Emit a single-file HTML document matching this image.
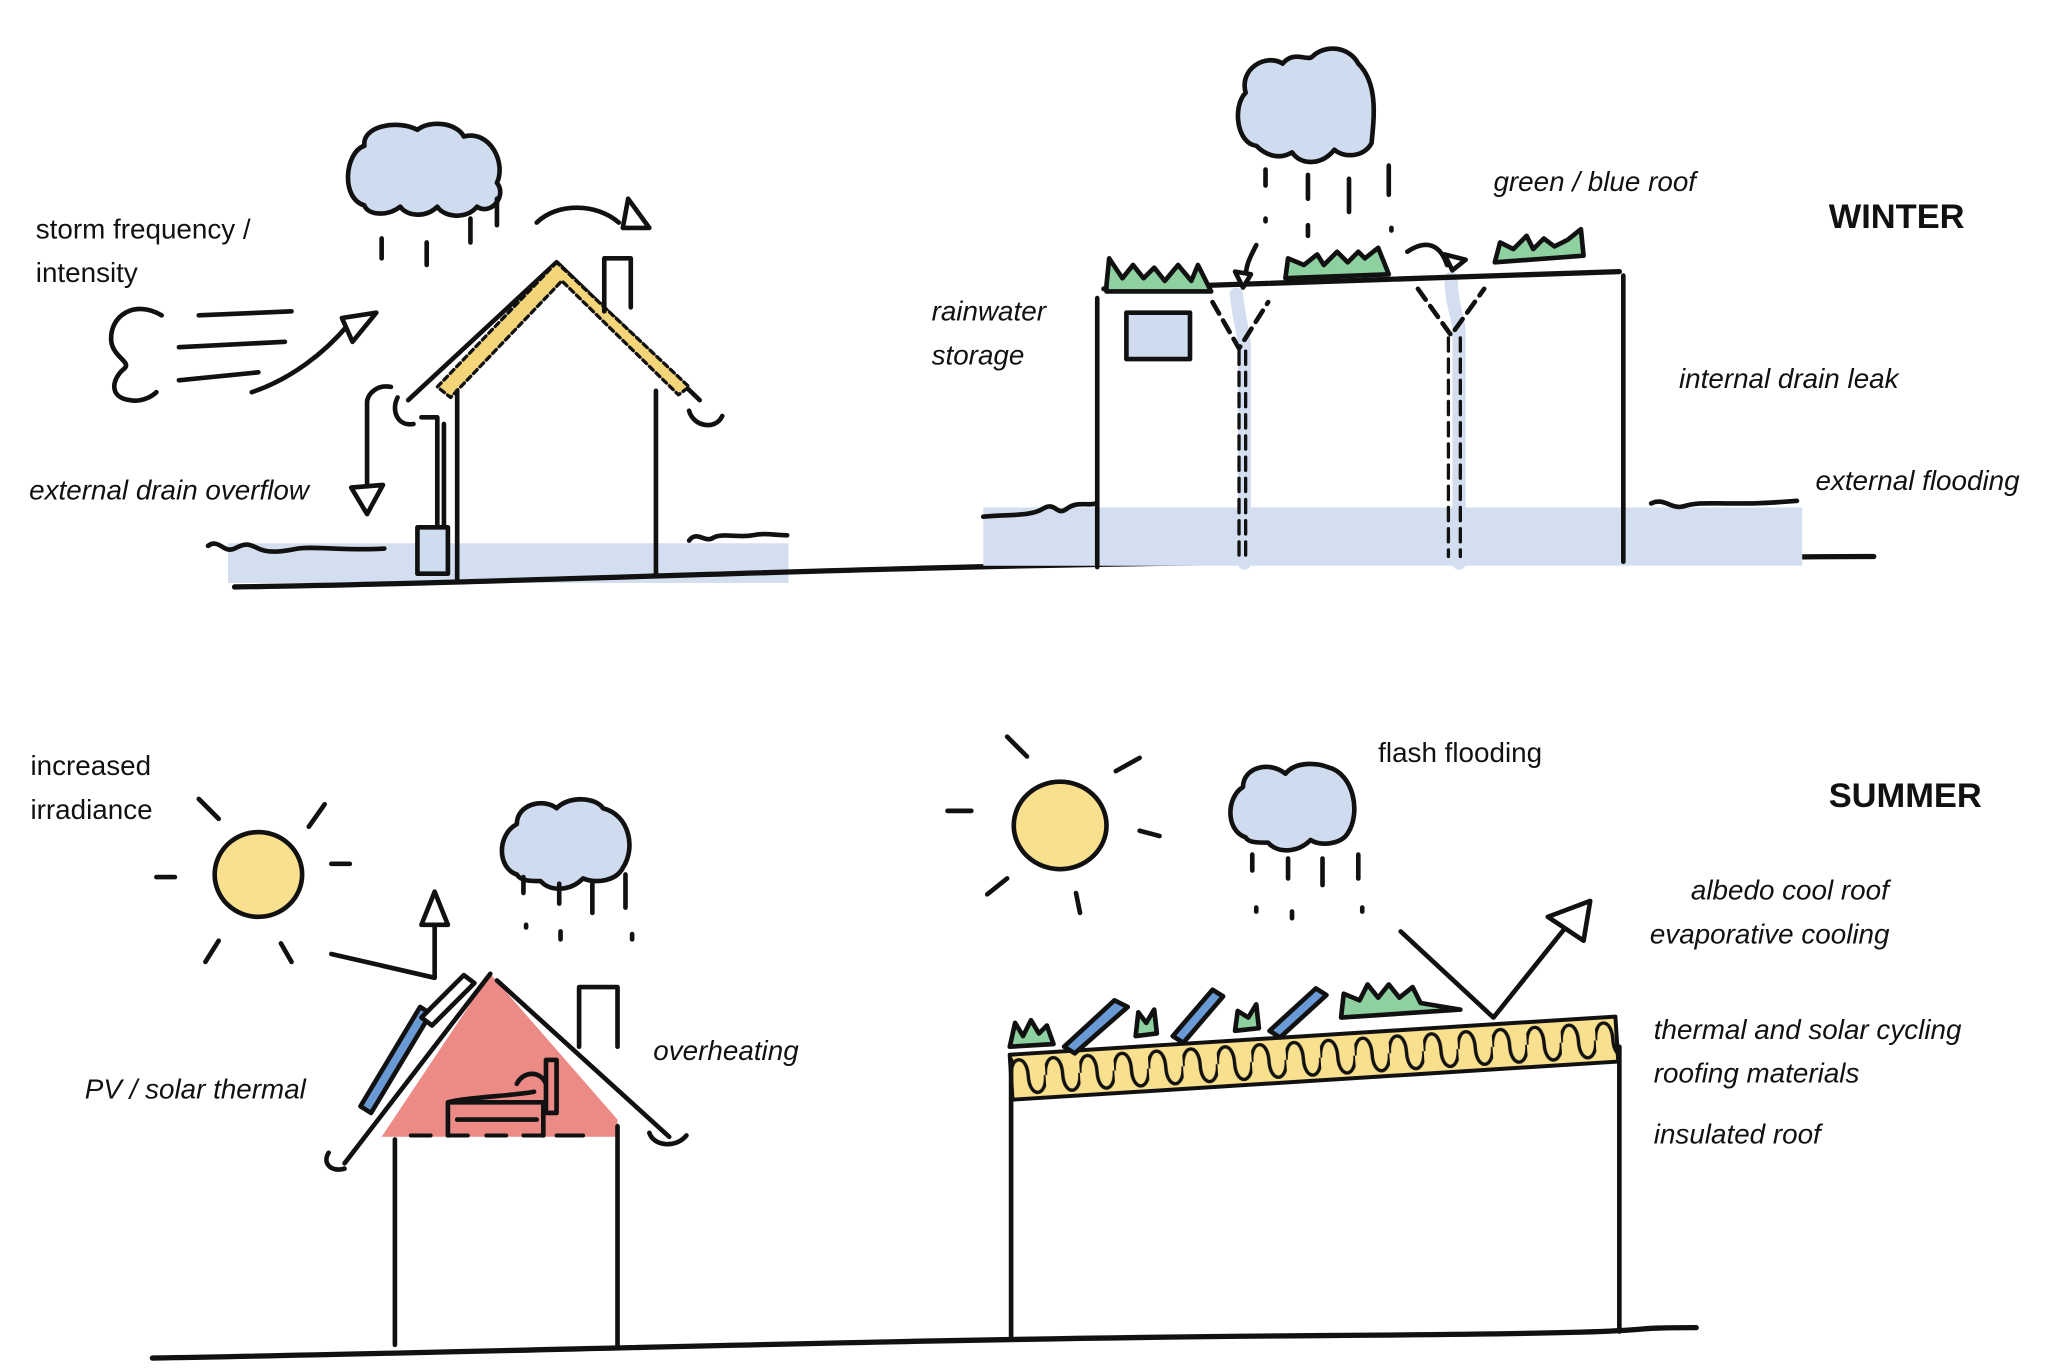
<!DOCTYPE html>
<html><head><meta charset="utf-8"><style>
html,body{margin:0;padding:0;background:#fff}
svg{display:block}
text{font-family:"Liberation Sans",sans-serif;font-size:21px;fill:#111}
.i{font-style:italic}
.b{font-weight:bold;font-size:26px}
</style></head><body>
<svg width="2054" height="1370" viewBox="0 0 1550 1034" preserveAspectRatio="none" xmlns="http://www.w3.org/2000/svg">
<defs>
<pattern id="mz" patternUnits="userSpaceOnUse" x="763" y="796" width="26" height="34">
<path d="M0,17 C0,0 13,0 13,17 C13,34 26,34 26,17" fill="none" stroke="#111" stroke-width="2.6"/>
</pattern>
</defs>
<g fill="none" stroke="#111" stroke-width="3.5" stroke-linecap="round" stroke-linejoin="round">
<!-- ===== WINTER LEFT ===== -->
<rect x="172" y="410" width="423" height="30" fill="#d3dff0" stroke="none"/>
<path d="M157,412 c8,-6 12,6 20,2 s10,-4 18,0 s20,2 30,0 s40,2 65,0"/>
<path d="M520,408 c6,-8 12,2 18,-2 s20,0 30,-2 s15,0 26,0"/>
<path d="M275,155 c-18,-5 -15,-40 0,-45 c-2,-15 25,-20 40,-12 c10,-8 30,-5 35,5 c20,-5 32,20 25,35 c8,10 -5,25 -15,18 c-8,10 -25,8 -30,0 c-8,8 -22,8 -28,0 c-10,8 -25,6 -27,-1z" fill="#cfdcef"/>
<path d="M288,180 v15 M322,183 v17 M355,165 v18 M375,150 v20"/>
<path d="M405,168 c15,-15 45,-15 62,0"/>
<path d="M474,150 l-4,22 h20z" fill="#fff"/>
<path d="M122,238 c-20,-12 -40,0 -38,20 c2,12 15,15 10,20 c-10,8 -12,22 4,24 c10,2 18,-4 20,-6"/>
<path d="M150,238 l70,-3 M135,262 l80,-4 M135,287 l60,-6 M190,296 c30,-10 55,-30 72,-50"/>
<path d="M258,240 l8,18 l18,-22z" fill="#fff"/>
<path d="M308,302 L420,198 L528,302" />
<path d="M420,198 L330,292 L340,300 L424,212 L512,298 L520,292 L420,198z" fill="#f5d57a" stroke-width="2.5" stroke-dasharray="4 3"/>
<path d="M345,295 V438 M495,295 V434"/>
<path d="M456,235 V195 h20 V232"/>
<path d="M300,300 c-5,10 0,22 12,20 M520,310 c3,12 20,15 25,4"/>
<path d="M318,315 h12 v85 M335,320 v80"/>
<rect x="315" y="398" width="23" height="35" fill="#cfdcef"/>
<path d="M295,292 c-10,-2 -18,5 -18,12 V365"/>
<path d="M265,368 l12,20 l12,-22z" fill="#fff"/>
<path d="M177,443 C400,440 700,425 1000,424 S1300,420 1414,420" stroke-width="4"/>
<!-- ===== WINTER RIGHT ===== -->
<rect x="742" y="383" width="618" height="44" fill="#d3dff0" stroke="none"/>
<path d="M742,390 c20,-2 35,0 45,-6 s10,6 18,0 s15,-2 22,-4"/>
<path d="M1246,380 c10,-5 15,5 25,2 s20,-2 35,-2 s25,0 50,-2"/>
<path d="M933,222 c2,20 6,30 6,40 V425 M1095,210 c0,20 6,30 6,40 V425" stroke="#d3dff0" stroke-width="10"/>
<path d="M915,228 l20,35 l22,-35 M1070,218 l25,35 l25,-35" stroke-dasharray="10 6"/>
<path d="M935,265 V425 M940,265 V425 M1093,255 V420 M1102,255 V420" stroke-width="2.5" stroke-dasharray="10 6"/>
<path d="M833,218 L1222,205" stroke-width="4"/>
<path d="M828,225 V428 M1225,208 V424"/>
<rect x="850" y="236" width="48" height="35" fill="#cfdcef"/>
<path d="M835,215 l2,-20 l10,15 l8,-10 l8,10 l8,-8 l8,10 l10,-12 l10,12 l5,-12 l10,20 h-79z" fill="#8ed0a0"/>
<path d="M970,210 l2,-15 l12,5 l10,-8 l5,8 l10,-10 l8,8 l8,-8 l5,5 l10,-8 l8,20z" fill="#8ed0a0"/>
<path d="M1128,198 l4,-15 l10,5 l10,-10 l5,10 l8,-8 l8,6 l10,-5 l10,-8 l2,20 z" fill="#8ed0a0"/>
<path d="M948,185 c-5,10 -8,15 -8,25 M1062,190 c15,-10 25,-5 30,10"/>
<path d="M932,205 l6,12 l6,-10z M1090,192 l6,12 l10,-8z" fill="#fff"/>
<path d="M948,110 c-15,-2 -18,-30 -8,-40 c-5,-18 15,-30 28,-22 c8,-10 18,-2 22,-5 c10,-10 28,-8 35,5 c15,15 12,40 10,60 c-5,10 -20,12 -28,5 c-10,12 -25,12 -32,2 c-10,6 -20,2 -27,-5z" fill="#cfdcef"/>
<path d="M955,128 v12 M987,132 v18 M1018,135 v25 M1048,125 v22 M955,165 v2 M987,170 v8 M1050,172 v2"/>
<!-- ===== SUMMER LEFT ===== -->
<ellipse cx="195" cy="660" rx="33" ry="32" fill="#f9e08e"/>
<path d="M150,603 l15,15 M245,607 l-12,17 M118,662 h14 M250,652 h14 M165,710 l-10,16 M212,712 l8,14"/>
<path d="M390,660 c-15,-5 -15,-30 0,-38 c0,-15 20,-20 30,-12 c10,-10 30,-8 35,0 c20,5 25,30 15,45 c-5,10 -20,12 -30,8 c-10,10 -25,10 -32,2 c-8,0 -15,0 -18,-5z" fill="#cfdcef"/>
<path d="M395,662 v12 M422,667 v15 M447,667 v22 M472,660 v25 M397,698 v2 M423,703 v6 M477,705 v4"/>
<path d="M250,720 l78,18 V697"/>
<path d="M318,698 l10,-25 l10,25z" fill="#fff"/>
<path d="M288,858 L370,735 L466,845 V858z" fill="#ec8a85" stroke="none"/>
<path d="M260,878 L370,735 M375,740 L505,858"/>
<path d="M272,835 l45,-75 l8,5 l-45,75z" fill="#6a9ad6"/>
<path d="M318,768 l32,-32 l8,6 l-32,32z" fill="#fff"/>
<path d="M437,790 V745 h29 V790"/>
<path d="M298,860 V1015 M466,850 V1015"/>
<path d="M310,857 h15 M338,857 h15 M367,857 h15 M395,857 h15 M420,857 h20" stroke-width="3"/>
<path d="M338,857 V832 h72 V857 M345,845 h60 M338,832 c15,-4 50,-5 65,-8 M412,800 v40 h8 V800z M390,818 c5,-10 18,-10 22,0"/>
<path d="M248,870 c-5,8 2,15 12,12 M490,855 c3,10 20,12 28,2"/>
<path d="M115,1025 C400,1020 700,1010 1000,1008 S1200,1002 1280,1002" stroke-width="4"/>
<!-- ===== SUMMER RIGHT ===== -->
<ellipse cx="800" cy="623" rx="35" ry="33" fill="#f9e08e"/>
<path d="M760,556 l15,15 M860,572 l-18,10 M715,612 h18 M860,627 l15,4 M745,675 l15,-12 M812,674 l3,15"/>
<path d="M940,632 c-15,-5 -15,-30 -2,-38 c0,-15 20,-20 32,-10 c8,-10 25,-8 32,-5 c20,5 25,35 15,50 c-5,8 -20,10 -28,5 c-10,10 -25,10 -32,2 c-8,0 -15,0 -17,-4z" fill="#cfdcef"/>
<path d="M945,645 v12 M972,648 v15 M998,648 v20 M1025,645 v18 M948,685 v3 M975,688 v5 M1028,685 v3"/>
<g transform="rotate(-3.6 763 813)">
<rect x="763" y="796" width="458" height="34" fill="#f9e08e" stroke="none"/>
<rect x="763" y="796" width="458" height="34" fill="url(#mz)" stroke="none"/>
<rect x="763" y="796" width="458" height="34" stroke-width="3"/>
</g>
<path d="M763,800 V1010 M1222,790 V1005"/>
<path d="M762,790 l4,-18 l6,10 l6,-12 l6,10 l6,-6 l5,14z" fill="#8ed0a0"/>
<path d="M803,790 l38,-35 l10,5 l-40,35z" fill="#6a9ad6"/>
<path d="M857,782 l2,-18 l6,8 l6,-10 l2,18z" fill="#8ed0a0"/>
<path d="M885,782 l30,-35 l8,5 l-30,35z" fill="#6a9ad6"/>
<path d="M932,778 l2,-15 l8,5 l6,-10 l2,18z" fill="#8ed0a0"/>
<path d="M958,778 l35,-32 l8,5 l-35,32z" fill="#6a9ad6"/>
<path d="M1012,768 l2,-18 l12,5 l6,-12 l8,10 l8,-10 l8,10 l10,-8 l6,12 l30,5z" fill="#8ed0a0"/>
<path d="M1057,703 L1127,768 L1183,698"/>
<path d="M1168,692 l32,-12 l-5,30z" fill="#fff"/>
</g>
<text x="27" y="180">storm frequency /</text>
<text x="27" y="213">intensity</text>
<text x="22" y="377" class="i">external drain overflow</text>
<text x="1127" y="144" class="i">green / blue roof</text>
<text x="1380" y="172" class="b">WINTER</text>
<text x="703" y="242" class="i">rainwater</text>
<text x="703" y="275" class="i">storage</text>
<text x="1267" y="293" class="i">internal drain leak</text>
<text x="1370" y="370" class="i">external flooding</text>
<text x="23" y="585">increased</text>
<text x="23" y="618">irradiance</text>
<text x="1040" y="575">flash flooding</text>
<text x="1380" y="609" class="b">SUMMER</text>
<text x="1276" y="679" class="i">albedo cool roof</text>
<text x="1245" y="712" class="i">evaporative cooling</text>
<text x="493" y="800" class="i">overheating</text>
<text x="64" y="829" class="i">PV / solar thermal</text>
<text x="1248" y="784" class="i">thermal and solar cycling</text>
<text x="1248" y="817" class="i">roofing materials</text>
<text x="1248" y="863" class="i">insulated roof</text>
</svg>
</body></html>
